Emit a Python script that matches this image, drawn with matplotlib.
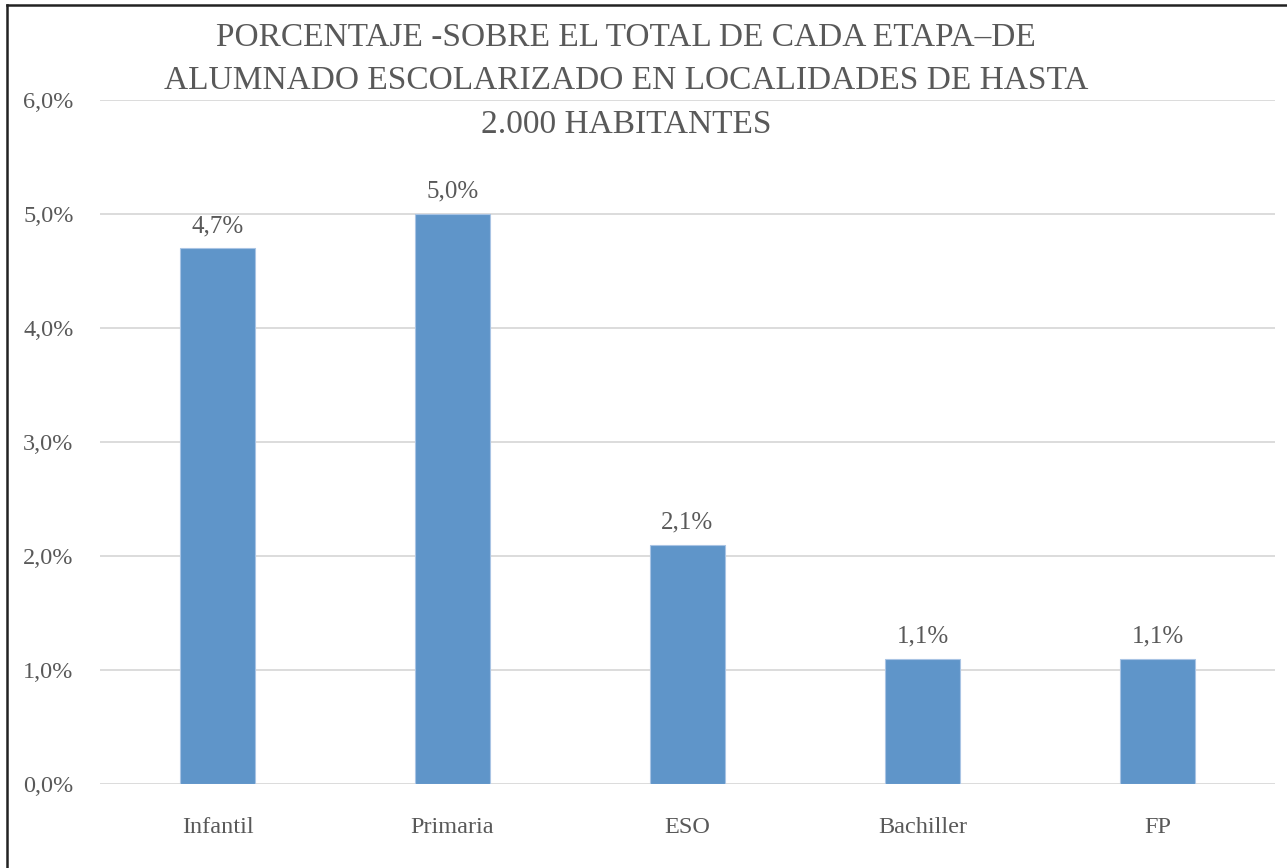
import matplotlib.pyplot as plt
from matplotlib.lines import Line2D

# data
etapas = ["Infantil", "Primaria", "ESO", "Bachiller", "FP"]
porcentajes = [4.7, 5.0, 2.1, 1.1, 1.1]
yticks = [0, 1, 2, 3, 4, 5, 6]
titulo = ("PORCENTAJE -SOBRE EL TOTAL DE CADA ETAPA\u2013DE\n"
          "ALUMNADO ESCOLARIZADO EN LOCALIDADES DE HASTA\n"
          "2.000 HABITANTES")

plt.rcParams['font.family'] = ['Liberation Serif', 'DejaVu Serif']
gris = '#595959'

W, H = 1287, 868
fig = plt.figure(figsize=(W / 100, H / 100), dpi=100)
fig.patch.set_facecolor('white')

# plot area in pixels
left, right, top, bottom = 100, 1275, 100, 784
ax = fig.add_axes([left / W, 1 - bottom / H, (right - left) / W, (bottom - top) / H])

x = range(len(etapas))
ax.bar(x, porcentajes, width=0.315, color='#5F95C9', edgecolor='#A9C4E4', linewidth=0.8, zorder=3)
for xi, v in zip(x, porcentajes):
    ax.annotate(("%.1f%%" % v).replace('.', ','), (xi, v), xytext=(0, 8), textcoords='offset points',
                ha='center', va='bottom', fontsize=18, color=gris)

ax.set_xlim(-0.5, len(etapas) - 0.5)
ax.set_ylim(0, 6)
ax.set_yticks(yticks)
ax.set_yticklabels([("%.1f%%" % t).replace('.', ',') for t in yticks])
ax.set_xticks(list(x))
ax.set_xticklabels(etapas)
ax.tick_params(axis='y', length=0, pad=19, labelsize=17.5, labelcolor=gris)
ax.tick_params(axis='x', length=0, pad=24, labelsize=17.5, labelcolor=gris)
ax.grid(axis='y', color='#D9D9D9', linewidth=1.3, zorder=0)
for s in ax.spines.values():
    s.set_visible(False)

fig.text(626 / W, 1 - 81 / H, titulo, ha='center', va='center', fontsize=24,
         color=gris, linespacing=1.55)

# frame lines (left and top only)
fig.add_artist(Line2D([6.5 / W, 6.5 / W], [0, 1 - 4.5 / H], transform=fig.transFigure,
                      color='#222222', linewidth=1.8))
fig.add_artist(Line2D([6.5 / W, 1], [1 - 4.5 / H, 1 - 4.5 / H], transform=fig.transFigure,
                      color='#222222', linewidth=1.8))

fig.savefig('out.png', dpi=100)
